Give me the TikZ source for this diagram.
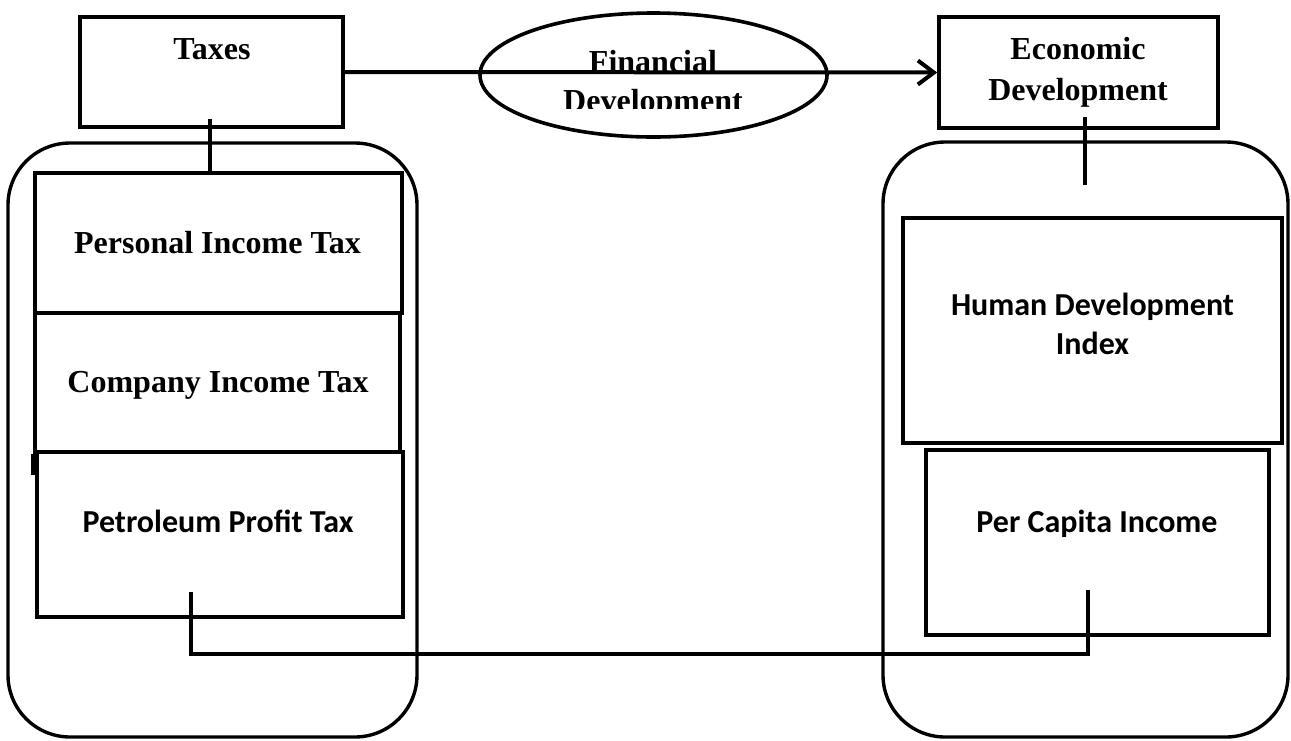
\documentclass[tikz,border=0pt]{standalone}
\usepackage{fontspec}
\setmainfont{Liberation Serif}
\newfontfamily\calfont{Carlito}
\usetikzlibrary{shapes.geometric,arrows.meta}
\begin{document}
\begin{tikzpicture}[x=1pt,y=-1pt,
  box/.style={draw,line width=3.6pt,inner sep=0pt},
  cont/.style={draw,line width=3.4pt,rounded corners=62pt},
  conn/.style={line width=4pt},
  tnr/.style={font=\bfseries\fontsize{32}{40}\selectfont,anchor=base,inner sep=0pt},
  cal/.style={font=\calfont\bfseries\fontsize{32}{40}\selectfont,anchor=base,inner sep=0pt,align=center}]
\useasboundingbox (0,0) rectangle (1291,740);
% containers
\draw[cont] (8,143) rectangle (417,737);
\draw[cont] (883,142) rectangle (1288,737);
% top boxes
\node[box,minimum width=263pt,minimum height=110pt] (tax) at (211.5,72) {};
\node[box,minimum width=279pt,minimum height=111pt] (econ) at (1078.5,72.5) {};
\node[draw,ellipse,line width=3.6pt,minimum width=347pt,minimum height=124pt,inner sep=0pt] (fin) at (653.5,75) {};
% left boxes
\node[box,minimum width=367pt,minimum height=140pt] (pit) at (218.5,243) {};
\node[box,minimum width=365pt,minimum height=139pt] (cit) at (217.5,382.5) {};
\node[box,minimum width=366pt,minimum height=165pt] (ppt) at (220,534.5) {};
\draw[line width=3.6pt] (cit.south west) -- ++(0,21);
% right boxes
\node[box,minimum width=379pt,minimum height=225pt] (hdi) at (1092.5,330.5) {};
\node[box,minimum width=343pt,minimum height=185pt] (pci) at (1097.5,542.5) {};
% texts
\node[tnr] (taxt) at (212,59) {Taxes};
\node[tnr] (econt1) at (1078,59) {Economic};
\node[tnr] (econt2) at (1078,100) {Development};
\begin{scope}
\clip (480,40) rectangle (830,108.5);
\node[tnr] (fint1) at (653,72) {Financial};
\node[tnr] (fint2) at (653,111) {Development};
\end{scope}
\node[tnr] (pitt) at (217.5,253) {Personal Income Tax};
\node[tnr] (citt) at (218,392) {Company Income Tax};
\node[cal] (pptt) at (218,532) {Petroleum Profit Tax};
\node[cal] (hdit1) at (1092.5,315) {Human Development};
\node[cal] (hdit2) at (1092.5,354) {Index};
\node[cal] (pcit) at (1097,532) {Per Capita Income};
% connectors
\draw[conn,-{Straight Barb[length=16pt,width=24pt,line width=4pt]}] (tax.east) -- (econ.west);
\draw[conn] ([xshift=-1.5pt,yshift=10pt]tax.south) -- ([xshift=-1.5pt]tax.south |- pit.north);
\coordinate (econend) at (1085,185);
\draw[conn] (1085,117) -- (econend);
\coordinate (b1) at (191,592);
\coordinate (b2) at (1088,590);
\coordinate (b3) at (1088,654);
\draw[conn] (b1) |- (b3) -- (b2);
\end{tikzpicture}
\end{document}
